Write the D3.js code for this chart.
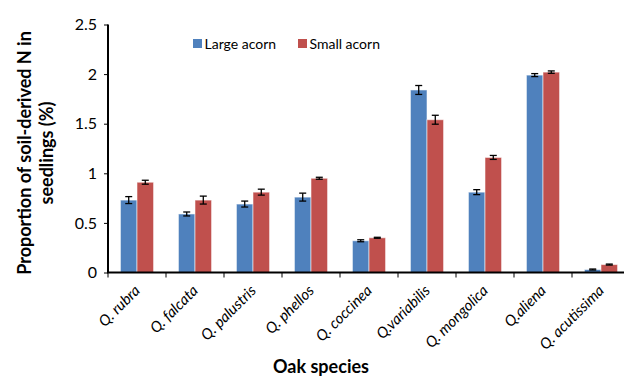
<!DOCTYPE html>
<html>
<head>
<meta charset="utf-8">
<script src="https://cdn.jsdelivr.net/npm/d3@7"></script>
<style>
  html, body { margin: 0; padding: 0; background: #fff; }
  svg { display: block; font-family: Lato, "Open Sans", sans-serif; }
</style>
</head>
<body>
<svg id="chart" width="624" height="377"></svg>
<script>
// Oak species on the x axis
const species = ["Q. rubra", "Q. falcata", "Q. palustris", "Q. phellos", "Q. coccinea",
                 "Q.variabilis", "Q. mongolica", "Q.aliena", "Q. acutissima"];
const seriesNames = ["Large acorn", "Small acorn"];
// Proportion of soil-derived N in seedlings (%), means and standard errors
const largeMean = [0.73, 0.59, 0.69, 0.76, 0.32, 1.84, 0.81, 1.99, 0.03];
const largeErr  = [0.035, 0.02, 0.03, 0.04, 0.01, 0.045, 0.025, 0.015, 0.005];
const smallMean = [0.91, 0.73, 0.81, 0.95, 0.35, 1.54, 1.16, 2.02, 0.08];
const smallErr  = [0.02, 0.04, 0.03, 0.01, 0.005, 0.045, 0.02, 0.012, 0.005];
const yTicks = [0, 0.5, 1, 1.5, 2, 2.5];
const colors = ["#4F81BD", "#C0504D"];

const svg = d3.select("#chart");
const plotLeft = 108, plotTop = 24.5, plotBottom = 272.5, bandW = 58;

const x = d3.scaleBand().domain(species)
  .range([plotLeft, plotLeft + bandW * species.length]).paddingInner(0).paddingOuter(0);
const x1 = d3.scaleBand().domain(seriesNames)
  .range([0, x.bandwidth()]).paddingInner(0).paddingOuter(0.75);
const y = d3.scaleLinear().domain([0, 2.5]).range([plotBottom, plotTop]);

const rows = species.map((s, i) => ({
  species: s,
  vals: [
    { name: seriesNames[0], mean: largeMean[i], err: largeErr[i], color: colors[0] },
    { name: seriesNames[1], mean: smallMean[i], err: smallErr[i], color: colors[1] }
  ]
}));

// Bars
const groups = svg.append("g").selectAll("g").data(rows).join("g")
  .attr("transform", d => `translate(${x(d.species)},0)`);

groups.selectAll("rect").data(d => d.vals).join("rect")
  .attr("x", d => x1(d.name))
  .attr("width", x1.bandwidth())
  .attr("y", d => y(d.mean))
  .attr("height", d => y(0) - y(d.mean))
  .attr("fill", d => d.color)
  .attr("stroke", "rgba(255,255,255,0.55)")
  .attr("stroke-width", 1);

// Error bars
const eb = groups.selectAll("g.err").data(d => d.vals).join("g").attr("class", "err")
  .attr("stroke", "#000").attr("stroke-width", 1.3);
const cx = d => x1(d.name) + x1.bandwidth() / 2;
eb.append("line").attr("x1", cx).attr("x2", cx)
  .attr("y1", d => y(d.mean - d.err)).attr("y2", d => y(d.mean + d.err));
eb.append("line").attr("x1", d => cx(d) - 3.5).attr("x2", d => cx(d) + 3.5)
  .attr("y1", d => y(d.mean - d.err)).attr("y2", d => y(d.mean - d.err));
eb.append("line").attr("x1", d => cx(d) - 3.5).attr("x2", d => cx(d) + 3.5)
  .attr("y1", d => y(d.mean + d.err)).attr("y2", d => y(d.mean + d.err));

// Y axis
const yAxis = svg.append("g").attr("transform", `translate(${plotLeft},0)`)
  .call(d3.axisLeft(y).tickValues(yTicks).tickSize(4).tickPadding(7)
        .tickFormat(d => d3.format("")(d)));
yAxis.select(".domain").attr("stroke-width", 2).attr("d", `M0,${plotTop}V${plotBottom}`);
yAxis.selectAll(".tick line").attr("stroke-width", 1);
yAxis.selectAll("text").attr("font-size", 16).attr("fill", "#000")
  .attr("font-family", "Lato, sans-serif");

// X axis: ticks at category boundaries
const xAxisG = svg.append("g").attr("transform", `translate(0,${plotBottom})`);
xAxisG.append("line").attr("x1", plotLeft - 1).attr("x2", 624)
  .attr("stroke", "#000").attr("stroke-width", 2);
const bounds = species.map(s => x(s));
xAxisG.selectAll("line.tk").data(bounds).join("line").attr("class", "tk")
  .attr("x1", d => d).attr("x2", d => d).attr("y1", 0).attr("y2", 5)
  .attr("stroke", "#000").attr("stroke-width", 1);
xAxisG.selectAll("text").data(species).join("text")
  .attr("transform", d => `translate(${x(d) + x.bandwidth() / 2 + 4},19) rotate(-45)`)
  .attr("text-anchor", "end")
  .attr("font-size", 15).attr("font-style", "italic").attr("fill", "#000")
  .text(d => d);

// Axis titles
svg.append("text").attr("x", 321).attr("y", 373).attr("text-anchor", "middle")
  .attr("font-size", 18).attr("font-weight", "bold").text("Oak species");
const yt = svg.append("text").attr("transform", "translate(0,153) rotate(-90)")
  .attr("text-anchor", "middle").attr("font-size", 18).attr("font-weight", "bold");
yt.append("tspan").attr("x", 0).attr("y", 31).text("Proportion of soil-derived N in");
yt.append("tspan").attr("x", 0).attr("y", 53).text("seedlings (%)");

// Legend
const legX = [193, 298];
const leg = svg.append("g").selectAll("g").data(seriesNames).join("g")
  .attr("transform", (d, i) => `translate(${legX[i]},39)`);
leg.append("rect").attr("width", 9).attr("height", 9)
  .attr("fill", (d, i) => colors[i]);
leg.append("text").attr("x", 11.5).attr("y", 9.5).attr("font-size", 14)
  .attr("fill", "#000").text(d => d);
</script>
</body>
</html>
